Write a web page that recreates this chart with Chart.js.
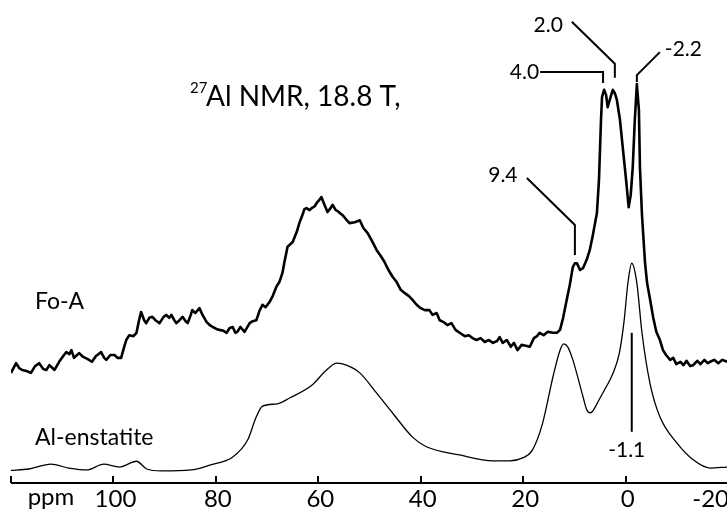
<!DOCTYPE html>
<html>
<head>
<meta charset="utf-8">
<script src="https://cdn.jsdelivr.net/npm/chart.js@4/dist/chart.umd.min.js"></script>
<style>
  html, body { margin: 0; padding: 0; background: #fff; }
  #wrap { width: 727px; height: 512px; position: relative; }
</style>
</head>
<body>
<div id="wrap"><canvas id="nmr"></canvas></div>
<script>
// 27Al NMR spectra (intensity in arbitrary units, Fo-A trace already offset upward)
const foaPpm = [120.0, 119.0, 118.4, 117.8, 117.0, 116.1, 115.3, 114.5, 113.7, 113.1, 112.5, 111.9, 111.5, 110.6, 109.8,
  109.2, 108.6, 108.2, 107.7, 107.1, 106.7, 105.9, 105.1, 104.2, 103.4, 102.4, 101.8, 101.4, 100.6, 99.8,
  99.2, 98.5, 97.9, 97.5, 96.9, 96.1, 95.5, 95.0, 94.6, 94.0, 93.6, 93.0, 92.4, 91.8, 91.0,
  90.2, 89.7, 89.1, 88.7, 88.1, 87.7, 87.1, 86.5, 85.9, 85.5, 84.9, 84.6, 84.0, 83.2, 82.6,
  81.8, 81.2, 80.6, 79.9, 79.3, 78.5, 77.9, 77.3, 76.7, 76.2, 75.8, 75.2, 74.4, 73.4, 72.8,
  72.1, 71.5, 70.9, 70.3, 69.5, 68.9, 68.2, 67.6, 67.0, 66.6, 66.0, 65.4, 65.0, 64.2, 63.7,
  63.1, 62.7, 62.3, 61.7, 61.3, 60.7, 60.3, 59.8, 59.4, 58.8, 58.2, 57.6, 57.2, 56.6, 56.2,
  55.8, 55.3, 54.5, 53.9, 52.9, 51.9, 51.2, 50.4, 49.6, 48.6, 47.8, 47.1, 46.3, 45.5, 44.7,
  43.9, 43.1, 42.3, 41.6, 40.8, 40.0, 39.2, 38.3, 37.7, 36.9, 36.3, 35.5, 34.8, 34.0, 33.2,
  32.4, 31.4, 30.6, 29.9, 29.1, 28.3, 27.5, 26.7, 25.9, 25.1, 24.6, 24.0, 23.2, 22.4, 21.8,
  21.1, 20.3, 19.5, 18.7, 17.9, 17.3, 16.8, 16.0, 15.2, 14.2, 13.4, 12.8, 12.2, 11.5, 10.9,
  10.3, 9.9, 9.5, 8.9, 8.3, 7.6, 7.0, 6.4, 5.6, 5.2, 5.0, 4.8, 4.6, 4.2, 3.8,
  3.5, 3.1, 2.5, 2.1, 1.7, 1.1, 0.5, -0.1, -0.6, -1.0, -1.4, -1.8, -2.2, -2.6, -2.8,
  -3.2, -3.8, -4.2, -4.8, -5.4, -6.0, -6.7, -7.3, -7.9, -8.7, -9.3, -9.9, -10.7, -11.3, -11.9,
  -12.6, -13.2, -14.0, -14.6, -15.4, -16.0, -16.5, -17.3, -18.1, -18.9, -19.8];
const foaIntensity = [22.8, 24.8, 23.8, 23.4, 23.2, 22.8, 24.2, 24.8, 23.6, 23.4, 24.4, 23.8, 23.4, 25.1, 26.3,
  27.1, 26.7, 27.5, 25.9, 26.5, 26.9, 26.1, 25.7, 25.1, 26.3, 27.1, 25.9, 25.5, 26.5, 26.5,
  25.9, 25.9, 28.2, 29.6, 30.6, 30.4, 31.1, 33.7, 35.4, 33.7, 33.1, 34.2, 34.4, 33.7, 33.1,
  34.4, 34.8, 34.2, 34.8, 33.7, 33.1, 33.7, 34.4, 33.5, 33.1, 34.8, 35.8, 35.2, 36.2, 34.8,
  33.3, 32.7, 32.3, 31.9, 31.7, 31.5, 31.1, 32.1, 32.3, 31.1, 31.3, 32.3, 31.3, 33.1, 33.5,
  33.7, 35.6, 36.9, 36.4, 37.5, 38.7, 40.6, 41.6, 43.5, 45.8, 48.9, 49.5, 49.9, 52.0, 53.8,
  55.5, 56.7, 56.9, 56.5, 56.9, 57.3, 58.0, 58.6, 59.2, 57.6, 56.1, 56.9, 57.6, 56.5, 56.3,
  55.9, 55.5, 54.5, 53.8, 54.0, 54.4, 52.8, 51.8, 50.3, 48.2, 47.0, 45.8, 44.1, 42.7, 41.6,
  40.0, 39.3, 38.7, 37.9, 36.9, 36.2, 35.8, 35.8, 34.8, 35.2, 33.7, 33.3, 32.7, 33.1, 31.7,
  31.1, 30.4, 30.6, 30.0, 29.6, 30.0, 29.2, 29.6, 29.0, 29.4, 30.2, 29.0, 29.6, 28.2, 29.0,
  27.5, 28.6, 28.4, 28.2, 30.0, 30.4, 31.1, 30.6, 31.3, 31.1, 31.1, 31.7, 34.2, 37.9, 41.0,
  44.7, 45.5, 45.5, 44.1, 44.5, 46.2, 48.2, 51.3, 55.9, 62.7, 68.9, 75.2, 79.9, 81.4, 80.3,
  77.8, 79.3, 81.4, 80.7, 79.3, 75.2, 68.9, 62.7, 57.1, 59.6, 65.4, 75.2, 82.6, 77.2, 65.4,
  55.5, 45.5, 41.4, 37.9, 34.2, 31.3, 29.6, 27.5, 26.5, 25.5, 25.9, 24.6, 25.1, 24.4, 25.3,
  24.2, 24.4, 25.3, 24.6, 25.5, 24.8, 25.1, 25.5, 24.8, 25.5, 25.1];

const enstPpm = [120.2, 116.5, 112.2, 108.7, 105.2, 101.9, 98.8, 95.5, 93.5, 90.6, 84.8, 81.2, 76.7, 73.8, 72.1,
  70.9, 68.0, 65.6, 61.2, 58.4, 56.4, 54.5, 51.9, 48.6, 45.5, 41.6, 38.9, 32.4, 25.9, 22.6,
  20.1, 18.2, 16.2, 14.2, 12.8, 12.1, 11.3, 10.3, 8.3, 7.6, 7.0, 6.4, 5.5, 4.0, 2.5,
  1.2, 0.3, -0.45, -1.2, -2.2, -3.2, -4.75, -6.7, -10.0, -13.2, -16.5, -19.8];
const enstIntensity = [2.6, 2.9, 3.9, 3.1, 2.7, 3.9, 3.3, 4.5, 2.9, 2.5, 2.7, 3.7, 5.4, 8.9, 13.7,
  15.9, 16.4, 17.6, 20.3, 23.4, 24.8, 24.4, 22.8, 18.6, 14.5, 9.5, 7.5, 5.8, 4.6, 4.6,
  5.2, 6.8, 12.4, 21.9, 27.5, 28.8, 28.2, 25.5, 17.8, 15.2, 14.5, 14.9, 16.6, 19.5, 22.6,
  27.0, 33.5, 41.4, 45.5, 41.4, 31.1, 20.7, 13.7, 8.3, 4.8, 3.1, 3.3];

const tickValues = [100, 80, 60, 40, 20, 0, -20];
const tickLabels = ['100', '80', '60', '40', '20', '0', '-20'];
const tickMarks = [120, 100, 80, 60, 40, 20, 0];

const traceNames = ['Fo-A', 'Al-enstatite'];
const peakLabels = ['9.4', '4.0', '2.0', '-2.2', '-1.1'];

function toPoints(xs, ys) {
  return xs.map((x, i) => ({ x: x, y: ys[i] }));
}

const FONT = 'Lato, "Open Sans", sans-serif';

const decorations = {
  id: 'decorations',
  afterDraw(chart) {
    const ctx = chart.ctx;
    const xs = chart.scales.x;
    const ys = chart.scales.y;
    const area = chart.chartArea;
    ctx.save();
    ctx.strokeStyle = '#000';
    ctx.fillStyle = '#000';
    ctx.lineCap = 'butt';

    // x axis with ticks pointing up
    ctx.lineWidth = 2;
    ctx.beginPath();
    ctx.moveTo(area.left, area.bottom);
    ctx.lineTo(chart.width, area.bottom);
    for (const v of tickMarks) {
      const px = Math.round(xs.getPixelForValue(v));
      ctx.moveTo(px, area.bottom);
      ctx.lineTo(px, area.bottom - 7);
    }
    ctx.stroke();

    ctx.font = '24px ' + FONT;
    ctx.textBaseline = 'alphabetic';
    tickValues.forEach((v, i) => {
      let px = xs.getPixelForValue(v);
      if (i === tickValues.length - 1) {
        ctx.textAlign = 'right';
        px = chart.width + 2;
      } else {
        ctx.textAlign = 'center';
        px += 2;
      }
      ctx.fillText(tickLabels[i], px, area.bottom + 24);
    });
    ctx.textAlign = 'center';
    ctx.fillText('ppm', xs.getPixelForValue(112.2), area.bottom + 22);

    // trace names
    ctx.textAlign = 'left';
    ctx.font = '23px ' + FONT;
    ctx.fillText(traceNames[0], 35, 309);
    ctx.fillText(traceNames[1], 35, 445);

    // title with superscript
    ctx.font = '15px ' + FONT;
    ctx.fillText('27', 190, 93);
    ctx.font = '28px ' + FONT;
    ctx.fillText('Al NMR, 18.8 T,', 206, 106);

    // peak leaders
    ctx.lineWidth = 2;
    ctx.font = '21px ' + FONT;
    ctx.textBaseline = 'middle';
    const P = (ppm, v) => [xs.getPixelForValue(ppm), ys.getPixelForValue(v)];

    // 9.4
    let [ax, ay] = P(9.9, 47.2);
    ctx.beginPath();
    ctx.moveTo(ax, ay); ctx.lineTo(ax, ay - 30); ctx.lineTo(ax - 48, ay - 77);
    ctx.stroke();
    ctx.textAlign = 'center';
    ctx.fillText(peakLabels[0], ax - 72, ay - 80);

    // 4.0
    [ax, ay] = P(4.4, 82.8);
    ctx.beginPath();
    ctx.moveTo(ax, ay); ctx.lineTo(ax, ay - 11); ctx.lineTo(ax - 63, ay - 11);
    ctx.stroke();
    ctx.textAlign = 'right';
    ctx.fillText(peakLabels[1], ax - 64, ay - 11);

    // 2.0
    [ax, ay] = P(2.1, 83.9);
    ctx.beginPath();
    ctx.moveTo(ax, ay); ctx.lineTo(ax, ay - 14); ctx.lineTo(ax - 43, ay - 56);
    ctx.stroke();
    ctx.textAlign = 'right';
    ctx.fillText(peakLabels[2], ax - 52, ay - 53);

    // -2.2
    [ax, ay] = P(-2.2, 83.0);
    ctx.beginPath();
    ctx.moveTo(ax, ay); ctx.lineTo(ax, ay - 7); ctx.lineTo(ax + 23, ay - 30);
    ctx.stroke();
    ctx.textAlign = 'left';
    ctx.fillText(peakLabels[3], ax + 28, ay - 33);

    // -1.1
    [ax, ay] = P(-1.2, 31.1);
    ctx.beginPath();
    ctx.moveTo(ax, ay); ctx.lineTo(ax, ay + 99);
    ctx.stroke();
    ctx.textAlign = 'center';
    ctx.fillText(peakLabels[4], ax - 5, ay + 117);

    ctx.restore();
  }
};

new Chart(document.getElementById('nmr'), {
  type: 'line',
  data: {
    datasets: [
      {
        label: traceNames[0],
        data: toPoints(foaPpm, foaIntensity),
        borderColor: '#000',
        borderWidth: 2.6,
        pointRadius: 0,
        tension: 0,
        borderJoinStyle: 'round'
      },
      {
        label: traceNames[1],
        data: toPoints(enstPpm, enstIntensity),
        borderColor: '#000',
        borderWidth: 1.3,
        pointRadius: 0,
        cubicInterpolationMode: 'monotone'
      }
    ]
  },
  options: {
    responsive: true,
    maintainAspectRatio: false,
    animation: false,
    layout: { padding: { left: 11, right: 0, top: 0, bottom: 29 } },
    plugins: { legend: { display: false }, tooltip: { enabled: false } },
    scales: {
      x: { type: 'linear', reverse: true, min: -19.8, max: 120, display: false },
      y: { type: 'linear', min: 0, max: 100, display: false }
    }
  },
  plugins: [decorations]
});
</script>
</body>
</html>
